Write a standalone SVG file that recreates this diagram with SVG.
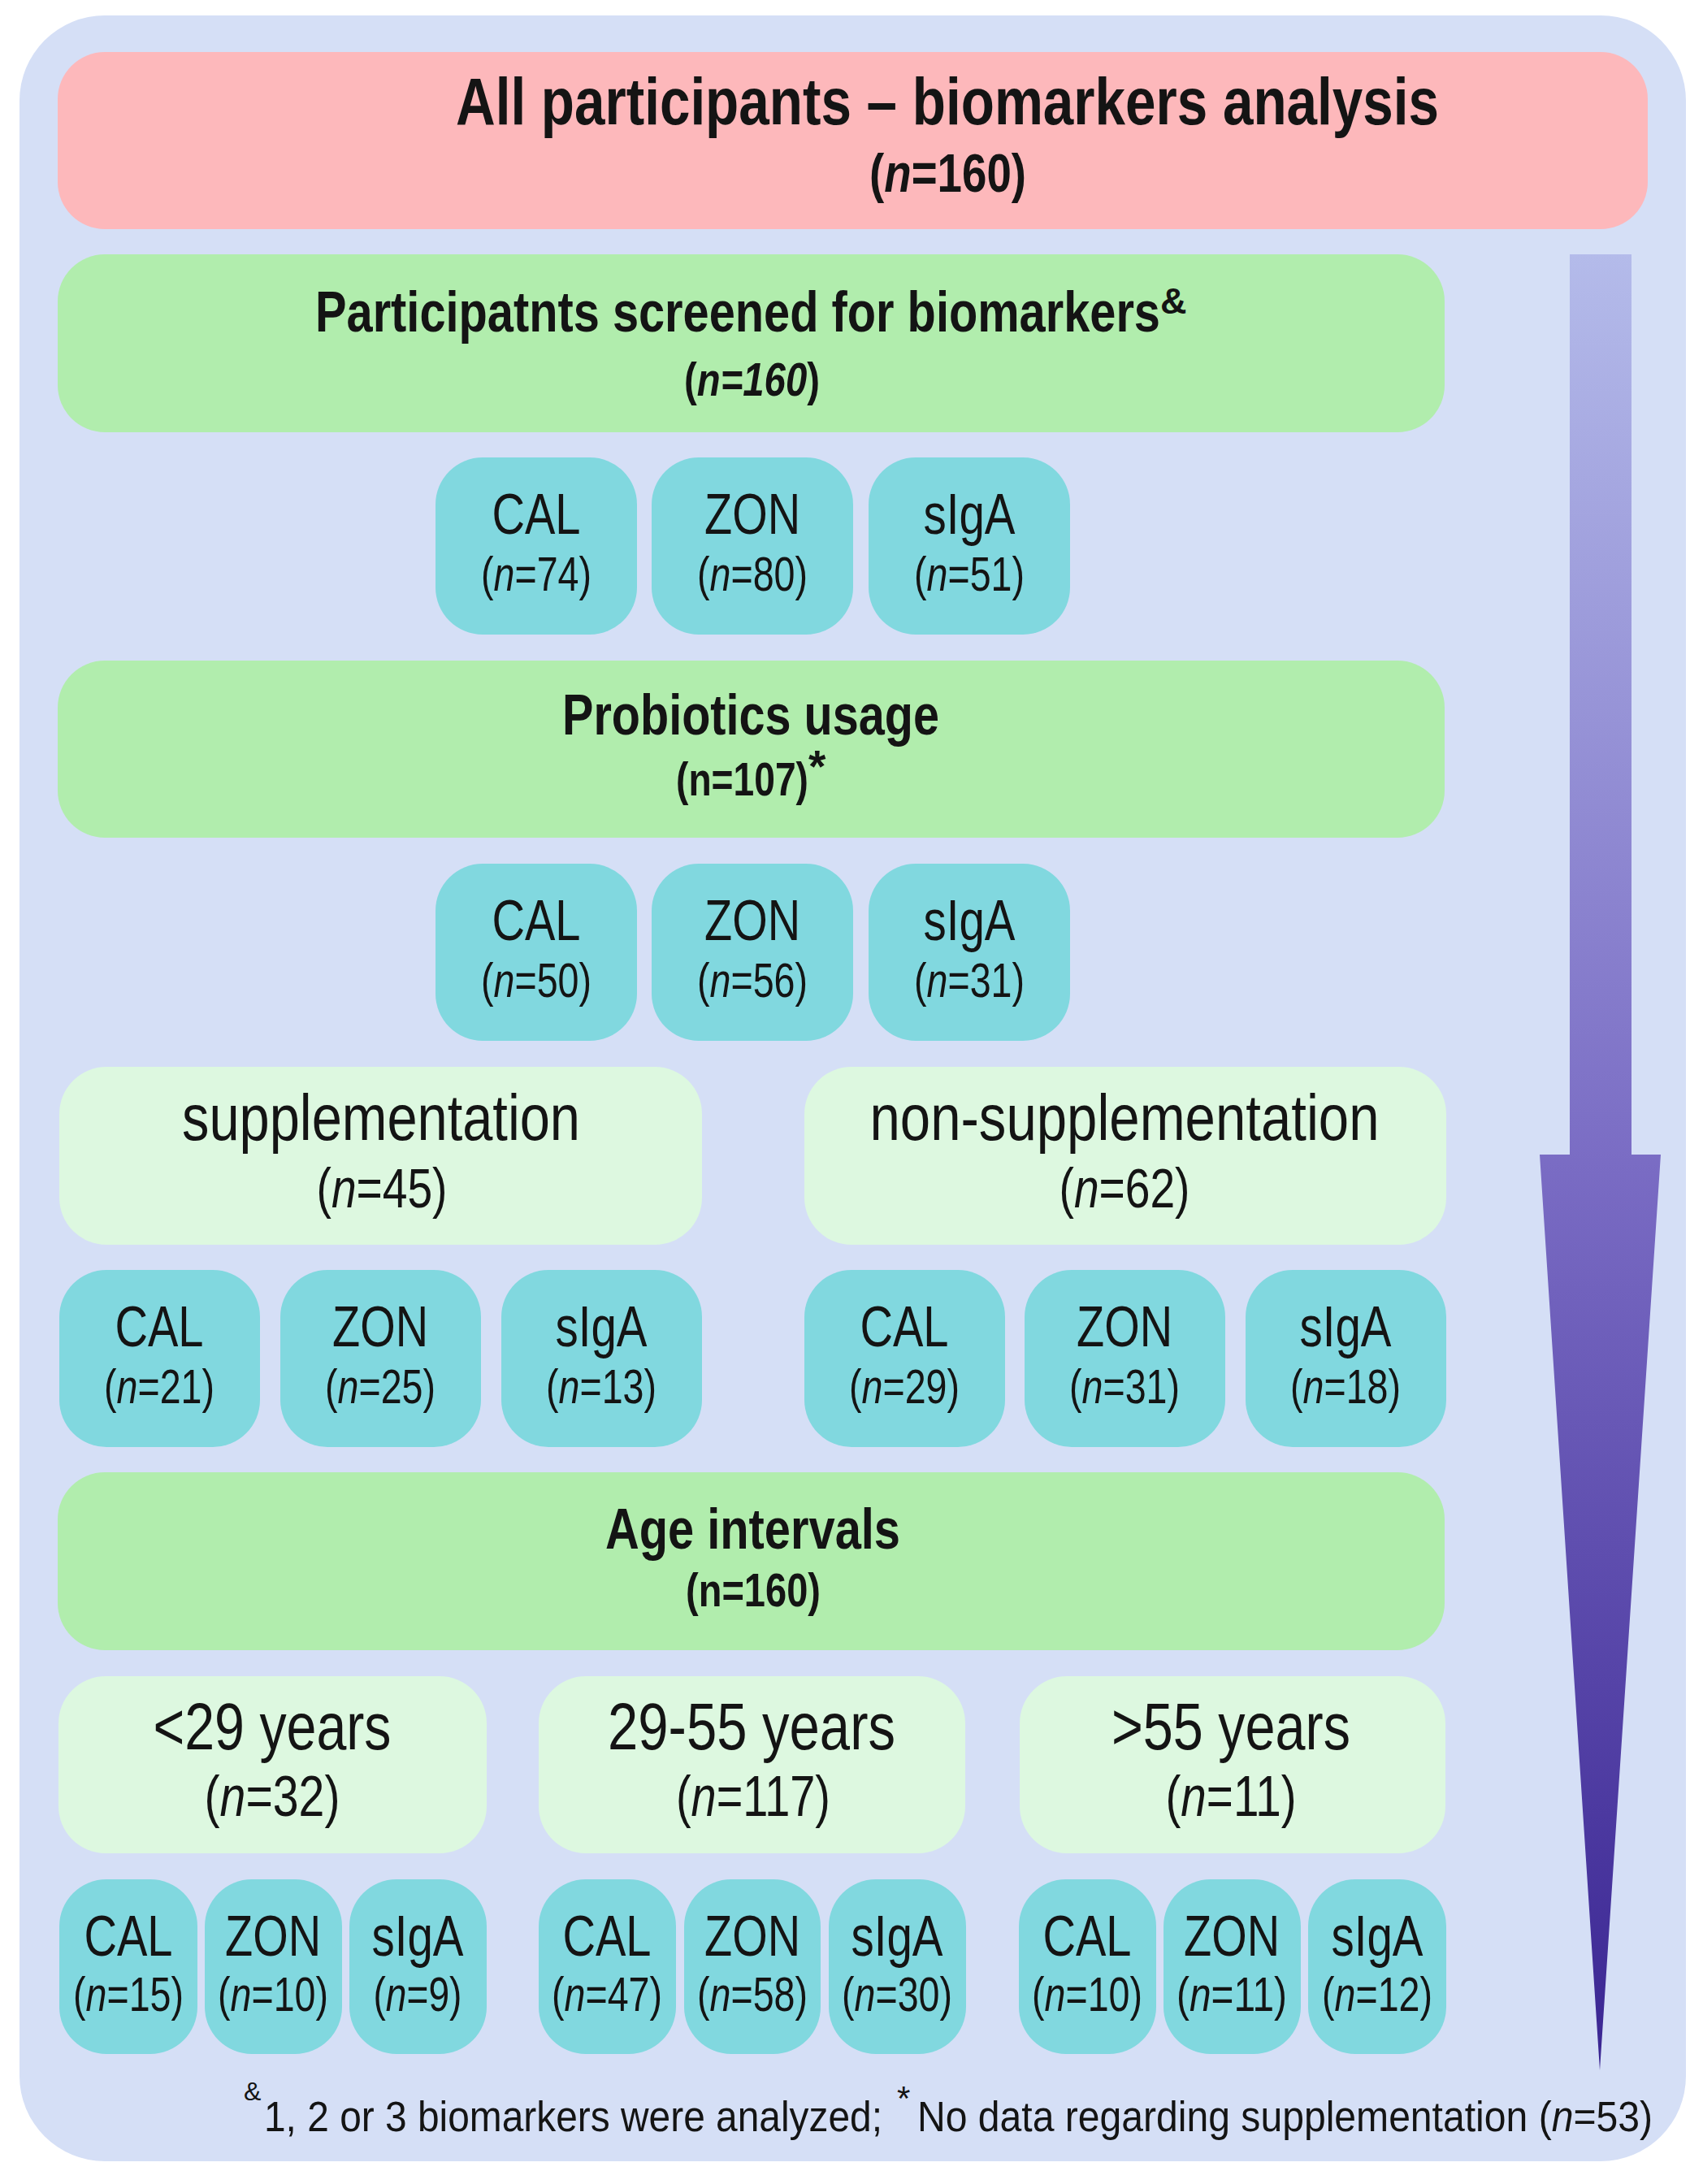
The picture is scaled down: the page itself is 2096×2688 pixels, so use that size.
<svg xmlns="http://www.w3.org/2000/svg" width="2096" height="2688" viewBox="0 0 2096 2688">
<defs>
<linearGradient id="arrowGrad" gradientUnits="userSpaceOnUse" x1="0" y1="313" x2="0" y2="2548">
<stop offset="0" stop-color="#b4bbea"/>
<stop offset="0.5" stop-color="#7a6cc4"/>
<stop offset="1" stop-color="#3a2592"/>
</linearGradient>
<style>
.t{font-family:"Liberation Sans",Arial,Helvetica,sans-serif;fill:#141414}
.b{font-weight:bold}
.c{text-anchor:middle}
.i{font-style:italic}
.pink{fill:#fdb8bb}
.green{fill:#b1edad}
.lgreen{fill:#ddf8e0}
.teal{fill:#81d8df}
.nm{font-size:70px}
.ct{font-size:60px}
</style>
</defs>
<rect x="0" y="0" width="2096" height="2688" fill="#ffffff"/>
<rect id="background" x="24" y="19" width="2051" height="2641" rx="105" ry="105" fill="#d5dff6"/>

<g id="connectors">
<polygon points="1932,313 2008,313 2008,1421 2044,1421 1969,2548 1895,1421 1932,1421" fill="url(#arrowGrad)"/>
</g>

<g id="node-all">
<rect class="pink" x="71" y="64" width="1957" height="218" rx="58"/>
<text class="t b" x="561" y="153" font-size="81" textLength="1210" lengthAdjust="spacingAndGlyphs">All participants – biomarkers analysis</text>
<text class="t b" x="1070" y="236" font-size="66" textLength="193" lengthAdjust="spacingAndGlyphs">(<tspan class="i">n</tspan>=160)</text>
</g>

<g id="node-screened">
<rect class="green" x="71" y="313" width="1707" height="219" rx="58"/>
<text class="t b" x="388" y="408" font-size="70" textLength="1040" lengthAdjust="spacingAndGlyphs">Participatnts screened for biomarkers</text>
<text class="t b" x="1428" y="386" font-size="45">&amp;</text>
<text class="t b" x="842" y="487" font-size="58" textLength="167" lengthAdjust="spacingAndGlyphs">(<tspan class="i">n=160</tspan>)</text>
</g>

<g id="node-r1-cal"><rect class="teal" x="536" y="563" width="248" height="218" rx="58"/>
<text class="t c nm" x="660" y="657" textLength="109" lengthAdjust="spacingAndGlyphs">CAL</text>
<text class="t c ct" x="660" y="727" textLength="136" lengthAdjust="spacingAndGlyphs">(<tspan class="i">n</tspan>=74)</text></g>
<g id="node-r1-zon"><rect class="teal" x="802" y="563" width="248" height="218" rx="58"/>
<text class="t c nm" x="926" y="657" textLength="118" lengthAdjust="spacingAndGlyphs">ZON</text>
<text class="t c ct" x="926" y="727" textLength="136" lengthAdjust="spacingAndGlyphs">(<tspan class="i">n</tspan>=80)</text></g>
<g id="node-r1-siga"><rect class="teal" x="1069" y="563" width="248" height="218" rx="58"/>
<text class="t c nm" x="1193" y="657" textLength="113" lengthAdjust="spacingAndGlyphs">sIgA</text>
<text class="t c ct" x="1193" y="727" textLength="136" lengthAdjust="spacingAndGlyphs">(<tspan class="i">n</tspan>=51)</text></g>

<g id="node-probiotics">
<rect class="green" x="71" y="813" width="1707" height="218" rx="58"/>
<text class="t b" x="692" y="904" font-size="70" textLength="464" lengthAdjust="spacingAndGlyphs">Probiotics usage</text>
<text class="t b" x="832" y="979" font-size="58" textLength="163" lengthAdjust="spacingAndGlyphs">(n=107)</text>
<text class="t b" x="995" y="962" font-size="55">*</text>
</g>

<g id="node-r2-cal"><rect class="teal" x="536" y="1063" width="248" height="218" rx="58"/>
<text class="t c nm" x="660" y="1157" textLength="109" lengthAdjust="spacingAndGlyphs">CAL</text>
<text class="t c ct" x="660" y="1227" textLength="136" lengthAdjust="spacingAndGlyphs">(<tspan class="i">n</tspan>=50)</text></g>
<g id="node-r2-zon"><rect class="teal" x="802" y="1063" width="248" height="218" rx="58"/>
<text class="t c nm" x="926" y="1157" textLength="118" lengthAdjust="spacingAndGlyphs">ZON</text>
<text class="t c ct" x="926" y="1227" textLength="136" lengthAdjust="spacingAndGlyphs">(<tspan class="i">n</tspan>=56)</text></g>
<g id="node-r2-siga"><rect class="teal" x="1069" y="1063" width="248" height="218" rx="58"/>
<text class="t c nm" x="1193" y="1157" textLength="113" lengthAdjust="spacingAndGlyphs">sIgA</text>
<text class="t c ct" x="1193" y="1227" textLength="136" lengthAdjust="spacingAndGlyphs">(<tspan class="i">n</tspan>=31)</text></g>

<g id="node-supplementation">
<rect class="lgreen" x="73" y="1313" width="791" height="219" rx="58"/>
<text class="t c" x="469" y="1403" font-size="80" textLength="490" lengthAdjust="spacingAndGlyphs">supplementation</text>
<text class="t c" x="470" y="1486" font-size="68" textLength="161" lengthAdjust="spacingAndGlyphs">(<tspan class="i">n</tspan>=45)</text>
</g>
<g id="node-non-supplementation">
<rect class="lgreen" x="990" y="1313" width="790" height="219" rx="58"/>
<text class="t c" x="1384" y="1403" font-size="80" textLength="627" lengthAdjust="spacingAndGlyphs">non-supplementation</text>
<text class="t c" x="1384" y="1486" font-size="68" textLength="161" lengthAdjust="spacingAndGlyphs">(<tspan class="i">n</tspan>=62)</text>
</g>

<g id="node-r3-cal-s"><rect class="teal" x="73" y="1563" width="247" height="218" rx="58"/>
<text class="t c nm" x="196" y="1657" textLength="109" lengthAdjust="spacingAndGlyphs">CAL</text>
<text class="t c ct" x="196" y="1727" textLength="136" lengthAdjust="spacingAndGlyphs">(<tspan class="i">n</tspan>=21)</text></g>
<g id="node-r3-zon-s"><rect class="teal" x="345" y="1563" width="247" height="218" rx="58"/>
<text class="t c nm" x="468" y="1657" textLength="118" lengthAdjust="spacingAndGlyphs">ZON</text>
<text class="t c ct" x="468" y="1727" textLength="136" lengthAdjust="spacingAndGlyphs">(<tspan class="i">n</tspan>=25)</text></g>
<g id="node-r3-siga-s"><rect class="teal" x="617" y="1563" width="247" height="218" rx="58"/>
<text class="t c nm" x="740" y="1657" textLength="113" lengthAdjust="spacingAndGlyphs">sIgA</text>
<text class="t c ct" x="740" y="1727" textLength="136" lengthAdjust="spacingAndGlyphs">(<tspan class="i">n</tspan>=13)</text></g>
<g id="node-r3-cal-n"><rect class="teal" x="990" y="1563" width="247" height="218" rx="58"/>
<text class="t c nm" x="1113" y="1657" textLength="109" lengthAdjust="spacingAndGlyphs">CAL</text>
<text class="t c ct" x="1113" y="1727" textLength="136" lengthAdjust="spacingAndGlyphs">(<tspan class="i">n</tspan>=29)</text></g>
<g id="node-r3-zon-n"><rect class="teal" x="1261" y="1563" width="247" height="218" rx="58"/>
<text class="t c nm" x="1384" y="1657" textLength="118" lengthAdjust="spacingAndGlyphs">ZON</text>
<text class="t c ct" x="1384" y="1727" textLength="136" lengthAdjust="spacingAndGlyphs">(<tspan class="i">n</tspan>=31)</text></g>
<g id="node-r3-siga-n"><rect class="teal" x="1533" y="1563" width="247" height="218" rx="58"/>
<text class="t c nm" x="1656" y="1657" textLength="113" lengthAdjust="spacingAndGlyphs">sIgA</text>
<text class="t c ct" x="1656" y="1727" textLength="136" lengthAdjust="spacingAndGlyphs">(<tspan class="i">n</tspan>=18)</text></g>

<g id="node-age">
<rect class="green" x="71" y="1812" width="1707" height="219" rx="58"/>
<text class="t b" x="745" y="1906" font-size="70" textLength="363" lengthAdjust="spacingAndGlyphs">Age intervals</text>
<text class="t b" x="844" y="1977" font-size="58" textLength="166" lengthAdjust="spacingAndGlyphs">(n=160)</text>
</g>

<g id="node-age-lt29">
<rect class="lgreen" x="72" y="2063" width="527" height="218" rx="58"/>
<text class="t c" x="335" y="2153" font-size="82" textLength="293" lengthAdjust="spacingAndGlyphs">&lt;29 years</text>
<text class="t c" x="335" y="2235" font-size="70" textLength="167" lengthAdjust="spacingAndGlyphs">(<tspan class="i">n</tspan>=32)</text>
</g>
<g id="node-age-29-55">
<rect class="lgreen" x="663" y="2063" width="525" height="218" rx="58"/>
<text class="t c" x="925" y="2153" font-size="82" textLength="354" lengthAdjust="spacingAndGlyphs">29-55 years</text>
<text class="t c" x="927" y="2235" font-size="70" textLength="190" lengthAdjust="spacingAndGlyphs">(<tspan class="i">n</tspan>=117)</text>
</g>
<g id="node-age-gt55">
<rect class="lgreen" x="1255" y="2063" width="524" height="218" rx="58"/>
<text class="t c" x="1515" y="2153" font-size="82" textLength="294" lengthAdjust="spacingAndGlyphs">&gt;55 years</text>
<text class="t c" x="1515" y="2235" font-size="70" textLength="161" lengthAdjust="spacingAndGlyphs">(<tspan class="i">n</tspan>=11)</text>
</g>

<g id="node-r4-cal-1"><rect class="teal" x="73" y="2313" width="170" height="215" rx="58"/>
<text class="t c nm" x="158" y="2407" textLength="109" lengthAdjust="spacingAndGlyphs">CAL</text>
<text class="t c ct" x="158" y="2475" textLength="136" lengthAdjust="spacingAndGlyphs">(<tspan class="i">n</tspan>=15)</text></g>
<g id="node-r4-zon-1"><rect class="teal" x="252" y="2313" width="169" height="215" rx="58"/>
<text class="t c nm" x="336" y="2407" textLength="118" lengthAdjust="spacingAndGlyphs">ZON</text>
<text class="t c ct" x="336" y="2475" textLength="136" lengthAdjust="spacingAndGlyphs">(<tspan class="i">n</tspan>=10)</text></g>
<g id="node-r4-siga-1"><rect class="teal" x="430" y="2313" width="169" height="215" rx="58"/>
<text class="t c nm" x="514" y="2407" textLength="113" lengthAdjust="spacingAndGlyphs">sIgA</text>
<text class="t c ct" x="514" y="2475" textLength="109" lengthAdjust="spacingAndGlyphs">(<tspan class="i">n</tspan>=9)</text></g>
<g id="node-r4-cal-2"><rect class="teal" x="663" y="2313" width="169" height="215" rx="58"/>
<text class="t c nm" x="747" y="2407" textLength="109" lengthAdjust="spacingAndGlyphs">CAL</text>
<text class="t c ct" x="747" y="2475" textLength="136" lengthAdjust="spacingAndGlyphs">(<tspan class="i">n</tspan>=47)</text></g>
<g id="node-r4-zon-2"><rect class="teal" x="842" y="2313" width="168" height="215" rx="58"/>
<text class="t c nm" x="926" y="2407" textLength="118" lengthAdjust="spacingAndGlyphs">ZON</text>
<text class="t c ct" x="926" y="2475" textLength="136" lengthAdjust="spacingAndGlyphs">(<tspan class="i">n</tspan>=58)</text></g>
<g id="node-r4-siga-2"><rect class="teal" x="1020" y="2313" width="169" height="215" rx="58"/>
<text class="t c nm" x="1104" y="2407" textLength="113" lengthAdjust="spacingAndGlyphs">sIgA</text>
<text class="t c ct" x="1104" y="2475" textLength="136" lengthAdjust="spacingAndGlyphs">(<tspan class="i">n</tspan>=30)</text></g>
<g id="node-r4-cal-3"><rect class="teal" x="1254" y="2313" width="169" height="215" rx="58"/>
<text class="t c nm" x="1338" y="2407" textLength="109" lengthAdjust="spacingAndGlyphs">CAL</text>
<text class="t c ct" x="1338" y="2475" textLength="136" lengthAdjust="spacingAndGlyphs">(<tspan class="i">n</tspan>=10)</text></g>
<g id="node-r4-zon-3"><rect class="teal" x="1432" y="2313" width="169" height="215" rx="58"/>
<text class="t c nm" x="1516" y="2407" textLength="118" lengthAdjust="spacingAndGlyphs">ZON</text>
<text class="t c ct" x="1516" y="2475" textLength="136" lengthAdjust="spacingAndGlyphs">(<tspan class="i">n</tspan>=11)</text></g>
<g id="node-r4-siga-3"><rect class="teal" x="1610" y="2313" width="170" height="215" rx="58"/>
<text class="t c nm" x="1695" y="2407" textLength="113" lengthAdjust="spacingAndGlyphs">sIgA</text>
<text class="t c ct" x="1695" y="2475" textLength="136" lengthAdjust="spacingAndGlyphs">(<tspan class="i">n</tspan>=12)</text></g>

<g id="footnote">
<text class="t" x="300" y="2585" font-size="32">&amp;</text>
<text class="t" x="325" y="2623" font-size="51" textLength="761" lengthAdjust="spacingAndGlyphs">1, 2 or 3 biomarkers were analyzed;</text>
<text class="t" x="1104" y="2597" font-size="42">*</text>
<text class="t" x="1129" y="2623" font-size="51" textLength="905" lengthAdjust="spacingAndGlyphs">No data regarding supplementation (<tspan class="i">n</tspan>=53)</text>
</g>
</svg>
